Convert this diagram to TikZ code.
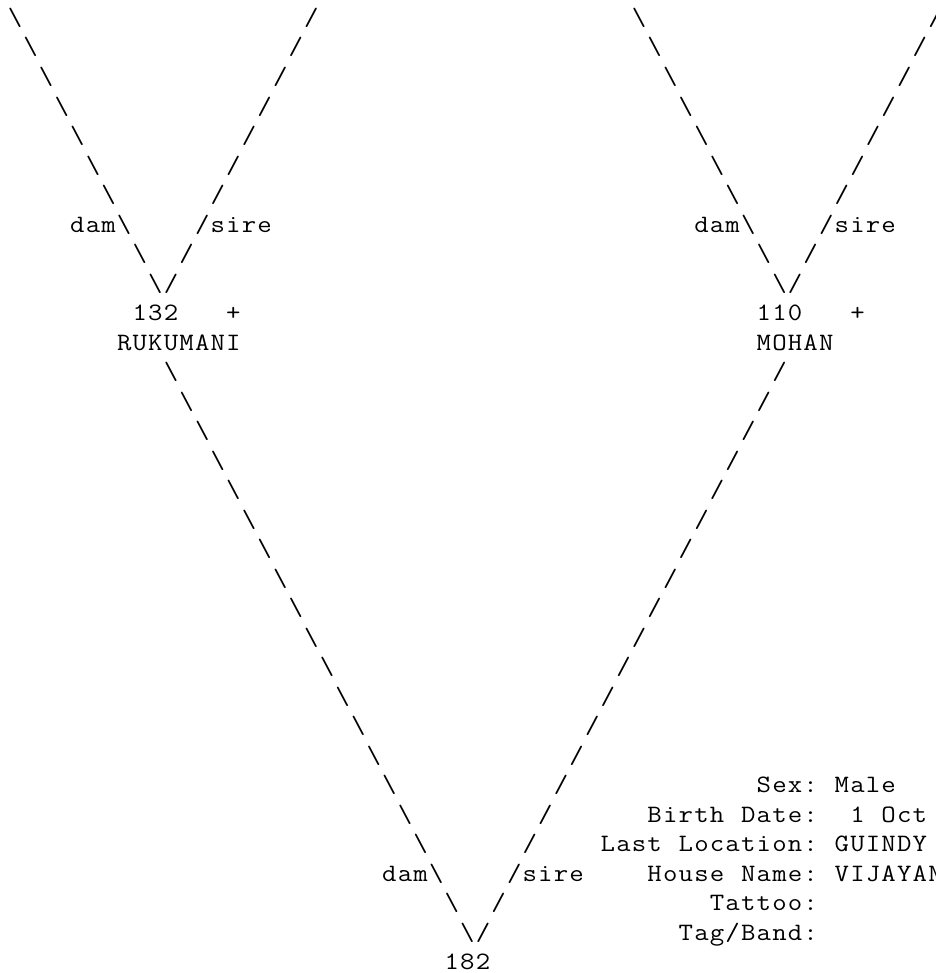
\documentclass[tikz,border=0pt]{standalone}
\usepackage{tikz}
\usepackage{graphicx}

% one fixed cell per character, like the printed chart
\newcommand{\pitchtext}[1]{\pitchloop#1\relax}
\newcommand{\pitchloop}[1]{\ifx\relax#1\else\makebox[15.6pt][c]{\scalebox{1.12}[1]{#1}}\expandafter\pitchloop\fi}
\newcommand{\bs}{\textbackslash}
\newcommand{\pedfont}{\fontsize{25}{30}\ttfamily\selectfont}

\begin{document}
\begin{tikzpicture}[
  x=15.6pt,y=-29.5pt,
  asc/.style={font=\pedfont,inner sep=0pt,outer sep=0pt,anchor=base west}
]
\useasboundingbox (0,0) rectangle (59.94,32.98);
\fill[white] (0,0) rectangle (59.94,32.98);
\begin{scope}[shift={(0.4615,0.864)}]
% parents of 132
\foreach \k in {0,...,6,8,9} {
  \node[asc] (ad\k) at (\k,\k) {\pitchtext{\bs}};
  \node[asc] (as\k) at (19-\k,\k) {\pitchtext{/}};
}
\node[asc] (adam) at (4,7) {\pitchtext{dam\bs}};
\node[asc] (asire) at (12,7) {\pitchtext{/sire}};
\node[asc] (n132) at (8,10) {\pitchtext{132~~~+}};
\node[asc] (rukumani) at (7,11) {\pitchtext{RUKUMANI}};
% parents of 110
\foreach \k in {0,...,6,8,9} {
  \node[asc] (bd\k) at (40+\k,\k) {\pitchtext{\bs}};
  \node[asc] (bs\k) at (59-\k,\k) {\pitchtext{/}};
}
\node[asc] (bdam) at (44,7) {\pitchtext{dam\bs}};
\node[asc] (bsire) at (52,7) {\pitchtext{/sire}};
\node[asc] (n110) at (48,10) {\pitchtext{110~~~+}};
\node[asc] (mohan) at (48,11) {\pitchtext{MOHAN}};
% parents of 182
\foreach \k in {12,...,28,30,31} {
  \node[asc] (cd\k) at (\k-2,\k) {\pitchtext{\bs}};
  \node[asc] (cs\k) at (61-\k,\k) {\pitchtext{/}};
}
\node[asc] (cdam) at (24,29) {\pitchtext{dam\bs}};
\node[asc] (csire) at (32,29) {\pitchtext{/sire}};
\node[asc] (n182) at (28,32) {\pitchtext{182}};
% record of 182
\node[asc] (sex) at (48,26) {\pitchtext{Sex:~Male}};
\node[asc] (birth) at (41,27) {\pitchtext{Birth~Date:~~1~Oct}};
\node[asc] (loc) at (38,28) {\pitchtext{Last~Location:~GUINDY}};
\node[asc] (house) at (41,29) {\pitchtext{House~Name:~VIJAYAN}};
\node[asc] (tattoo) at (45,30) {\pitchtext{Tattoo:}};
\node[asc] (tag) at (43,31) {\pitchtext{Tag/Band:}};
\end{scope}
\end{tikzpicture}
\end{document}
